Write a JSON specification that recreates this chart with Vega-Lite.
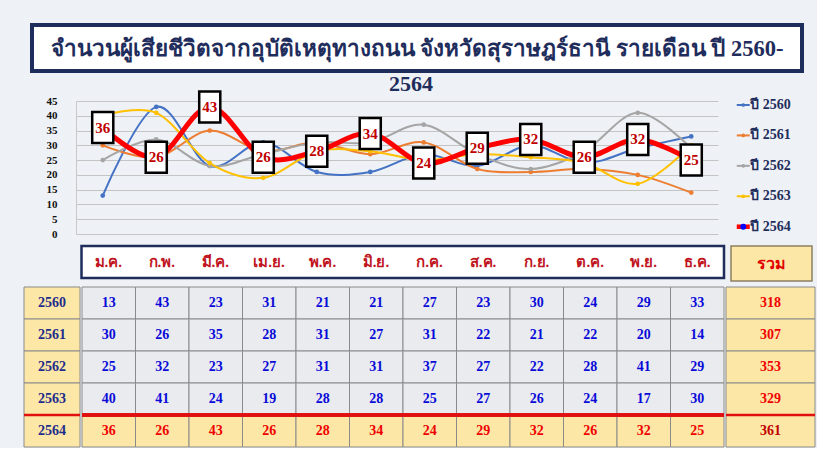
{
  "$schema": "https://vega.github.io/schema/vega-lite/v6.json",
  "background": "#eef1f5",
  "padding": {"left": 22, "top": 23, "right": 0, "bottom": 0},
  "spacing": 0,
  "config": {"view": {"stroke": null}, "font": "Liberation Serif"},
  "datasets": {
    "monthly": [
      {"year": "2560", "month": "ม.ค.", "value": 13}, {"year": "2560", "month": "ก.พ.", "value": 43}, {"year": "2560", "month": "มี.ค.", "value": 23}, {"year": "2560", "month": "เม.ย.", "value": 31}, {"year": "2560", "month": "พ.ค.", "value": 21}, {"year": "2560", "month": "มิ.ย.", "value": 21}, {"year": "2560", "month": "ก.ค.", "value": 27}, {"year": "2560", "month": "ส.ค.", "value": 23}, {"year": "2560", "month": "ก.ย.", "value": 30}, {"year": "2560", "month": "ต.ค.", "value": 24}, {"year": "2560", "month": "พ.ย.", "value": 29}, {"year": "2560", "month": "ธ.ค.", "value": 33},
      {"year": "2561", "month": "ม.ค.", "value": 30}, {"year": "2561", "month": "ก.พ.", "value": 26}, {"year": "2561", "month": "มี.ค.", "value": 35}, {"year": "2561", "month": "เม.ย.", "value": 28}, {"year": "2561", "month": "พ.ค.", "value": 31}, {"year": "2561", "month": "มิ.ย.", "value": 27}, {"year": "2561", "month": "ก.ค.", "value": 31}, {"year": "2561", "month": "ส.ค.", "value": 22}, {"year": "2561", "month": "ก.ย.", "value": 21}, {"year": "2561", "month": "ต.ค.", "value": 22}, {"year": "2561", "month": "พ.ย.", "value": 20}, {"year": "2561", "month": "ธ.ค.", "value": 14},
      {"year": "2562", "month": "ม.ค.", "value": 25}, {"year": "2562", "month": "ก.พ.", "value": 32}, {"year": "2562", "month": "มี.ค.", "value": 23}, {"year": "2562", "month": "เม.ย.", "value": 27}, {"year": "2562", "month": "พ.ค.", "value": 31}, {"year": "2562", "month": "มิ.ย.", "value": 31}, {"year": "2562", "month": "ก.ค.", "value": 37}, {"year": "2562", "month": "ส.ค.", "value": 27}, {"year": "2562", "month": "ก.ย.", "value": 22}, {"year": "2562", "month": "ต.ค.", "value": 28}, {"year": "2562", "month": "พ.ย.", "value": 41}, {"year": "2562", "month": "ธ.ค.", "value": 29},
      {"year": "2563", "month": "ม.ค.", "value": 40}, {"year": "2563", "month": "ก.พ.", "value": 41}, {"year": "2563", "month": "มี.ค.", "value": 24}, {"year": "2563", "month": "เม.ย.", "value": 19}, {"year": "2563", "month": "พ.ค.", "value": 28}, {"year": "2563", "month": "มิ.ย.", "value": 28}, {"year": "2563", "month": "ก.ค.", "value": 25}, {"year": "2563", "month": "ส.ค.", "value": 27}, {"year": "2563", "month": "ก.ย.", "value": 26}, {"year": "2563", "month": "ต.ค.", "value": 24}, {"year": "2563", "month": "พ.ย.", "value": 17}, {"year": "2563", "month": "ธ.ค.", "value": 30},
      {"year": "2564", "month": "ม.ค.", "value": 36}, {"year": "2564", "month": "ก.พ.", "value": 26}, {"year": "2564", "month": "มี.ค.", "value": 43}, {"year": "2564", "month": "เม.ย.", "value": 26}, {"year": "2564", "month": "พ.ค.", "value": 28}, {"year": "2564", "month": "มิ.ย.", "value": 34}, {"year": "2564", "month": "ก.ค.", "value": 24}, {"year": "2564", "month": "ส.ค.", "value": 29}, {"year": "2564", "month": "ก.ย.", "value": 32}, {"year": "2564", "month": "ต.ค.", "value": 26}, {"year": "2564", "month": "พ.ย.", "value": 32}, {"year": "2564", "month": "ธ.ค.", "value": 25}
    ]
  },
  "vconcat": [
    {
      "hconcat": [
        {"width": 6, "height": 46, "data": {"values": []}, "mark": {"type": "rect", "opacity": 0}, "encoding": {}},
        {
          "width": 770, "height": 46,
          "view": {"stroke": "#1f2d5c", "strokeWidth": 4, "fill": "white"},
          "data": {"values": [{"l1": "จำนวนผู้เสียชีวิตจากอุบัติเหตุทางถนน จังหวัดสุราษฎร์ธานี รายเดือน ปี 2560-"}]},
          "mark": {"type": "text", "fontSize": 22.5, "fontWeight": "bold", "color": "#1f2d5c", "baseline": "middle", "dy": 1},
          "encoding": {"text": {"field": "l1"}}
        }
      ],
      "spacing": 0
    },
    {
      "vconcat": [
        {
          "hconcat": [
            {"width": 22, "height": 133, "data": {"values": []}, "mark": {"type": "rect", "opacity": 0}, "encoding": {}},
            {
              "width": 642, "height": 133,
              "title": {"text": "2564", "fontSize": 22, "fontWeight": "bold", "color": "#1f2d5c", "font": "Liberation Serif", "frame": "group", "anchor": "middle", "dx": 14, "offset": -10},
              "data": {"name": "monthly"},
              "encoding": {
                "x": {"field": "month", "type": "ordinal", "sort": ["ม.ค.","ก.พ.","มี.ค.","เม.ย.","พ.ค.","มิ.ย.","ก.ค.","ส.ค.","ก.ย.","ต.ค.","พ.ย.","ธ.ค."], "scale": {"type": "point", "padding": 0.5}, "axis": null}
              },
              "layer": [
                {
                  "encoding": {
                    "y": {"field": "value", "type": "quantitative", "scale": {"domain": [0, 45], "nice": false},
                      "axis": {"values": [0,5,10,15,20,25,30,35,40,45], "title": null, "ticks": false, "domain": true, "domainColor": "#c8c8c8", "grid": true, "gridColor": "#c4c4c4", "labelFont": "Liberation Serif", "labelFontWeight": "bold", "labelFontSize": 11, "labelColor": "#111111", "labelPadding": 19}}
                  },
                  "layer": [
                    {
                      "transform": [{"filter": "datum.year != '2564'"}],
                      "mark": {"type": "line", "interpolate": "cardinal", "strokeWidth": 2, "point": {"size": 22, "filled": true}},
                      "encoding": {"color": {"field": "year", "type": "nominal",
                        "scale": {"domain": ["2560","2561","2562","2563","2564"], "range": ["#4472c4","#ed7d31","#a5a5a5","#ffc000","#ff0000"]}, "legend": null}}
                    },
                    {
                      "transform": [{"filter": "datum.year == '2564'"}],
                      "mark": {"type": "line", "interpolate": "cardinal", "strokeWidth": 5},
                      "encoding": {"color": {"field": "year", "type": "nominal", "legend": null}}
                    },
                    {
                      "transform": [{"filter": "datum.year == '2564'"}],
                      "mark": {"type": "point", "shape": "M-0.68,-1L0.68,-1L0.68,1L-0.68,1Z", "size": 961, "filled": true, "fill": "white", "stroke": "black", "strokeWidth": 2.5, "opacity": 1}
                    },
                    {
                      "transform": [{"filter": "datum.year == '2564'"}],
                      "mark": {"type": "text", "fontSize": 15, "fontWeight": "bold", "color": "#c00000", "baseline": "middle"},
                      "encoding": {"text": {"field": "value"}}
                    }
                  ]
                },
                {
                  "transform": [{"filter": "datum.month == 'ธ.ค.'"}, {"calculate": "'ปี ' + datum.year", "as": "label"}],
                  "encoding": {
                    "y": {"field": "year", "type": "quantitative", "scale": {"domain": [2559.8686, 2564.2393], "reverse": true, "nice": false, "zero": false}, "axis": null}
                  },
                  "layer": [
                    {"mark": {"type": "point", "shape": "stroke", "size": 169, "filled": false, "xOffset": 52, "opacity": 1},
                     "encoding": {"color": {"field": "year", "type": "nominal", "legend": null}, "strokeWidth": {"condition": {"test": "datum.year == '2564'", "value": 4.5}, "value": 2}}},
                    {"mark": {"type": "point", "shape": "circle", "filled": true, "xOffset": 52, "opacity": 1},
                     "encoding": {"color": {"condition": {"test": "datum.year == '2564'", "value": "#0000ff"}, "field": "year", "type": "nominal", "legend": null}, "size": {"condition": {"test": "datum.year == '2564'", "value": 36}, "value": 14}}},
                    {"mark": {"type": "text", "align": "left", "baseline": "middle", "xOffset": 59, "fontSize": 14, "fontWeight": "bold", "color": "#1f2d5c"},
                     "encoding": {"text": {"field": "label"}}}
                  ]
                }
              ],
              "resolve": {"scale": {"y": "independent"}}
            }
          ],
          "spacing": 0
        },
        {
          "vconcat": [
            {
              "hconcat": [
                {"width": 50.5, "height": 32, "data": {"values": []}, "mark": {"type": "rect", "opacity": 0}, "encoding": {}},
                {
                  "width": 642.5, "height": 32,
                  "view": {"stroke": "#1f2d5c", "strokeWidth": 2.5, "fill": "white"},
                  "data": {"name": "monthly"},
                  "transform": [{"filter": "datum.year == '2560'"}],
                  "mark": {"type": "text", "fontSize": 15, "fontWeight": "bold", "color": "#c0141e", "baseline": "middle"},
                  "encoding": {
                    "x": {"field": "month", "type": "ordinal", "sort": ["ม.ค.","ก.พ.","มี.ค.","เม.ย.","พ.ค.","มิ.ย.","ก.ค.","ส.ค.","ก.ย.","ต.ค.","พ.ย.","ธ.ค."], "scale": {"type": "band", "padding": 0}, "axis": null},
                    "text": {"field": "month"}
                  }
                },
                {
                  "width": 81, "height": 35,
                  "view": {"stroke": "#8d8060", "strokeWidth": 1.5, "fill": "#fde7a6"},
                  "data": {"values": [{"t": "รวม"}]},
                  "mark": {"type": "text", "fontSize": 16, "fontWeight": "bold", "color": "#e00000", "baseline": "middle"},
                  "encoding": {"text": {"field": "t"}}
                }
              ],
              "spacing": 4.5
            },
            {
              "hconcat": [
                {
                  "width": 56, "height": 160,
                  "data": {"name": "monthly"},
                  "transform": [{"aggregate": [{"op": "sum", "field": "value", "as": "total"}], "groupby": ["year"]}],
                  "encoding": {"y": {"field": "year", "type": "ordinal", "scale": {"type": "band", "padding": 0}, "axis": null}},
                  "layer": [
                    {"mark": {"type": "rect", "fill": "#fde7a6", "stroke": "#8a8a8a", "strokeWidth": 1}},
                    {"transform": [{"filter": "datum.year == '2564'"}], "mark": {"type": "rule", "color": "#e01010", "strokeWidth": 2.5}, "encoding": {"y": {"field": "year", "type": "ordinal", "bandPosition": 0}}},
                    {"mark": {"type": "text", "fontSize": 14, "fontWeight": "bold", "color": "#1f2d8c", "baseline": "middle"}, "encoding": {"text": {"field": "year"}}}
                  ]
                },
                {
                  "width": 642, "height": 160,
                  "data": {"name": "monthly"},
                  "encoding": {
                    "x": {"field": "month", "type": "ordinal", "sort": ["ม.ค.","ก.พ.","มี.ค.","เม.ย.","พ.ค.","มิ.ย.","ก.ค.","ส.ค.","ก.ย.","ต.ค.","พ.ย.","ธ.ค."], "scale": {"type": "band", "padding": 0}, "axis": null},
                    "y": {"field": "year", "type": "ordinal", "scale": {"type": "band", "padding": 0}, "axis": null}
                  },
                  "layer": [
                    {"mark": {"type": "rect", "stroke": "#8a8a8a", "strokeWidth": 1}, "encoding": {"fill": {"condition": {"test": "datum.year == '2564'", "value": "#fde7a6"}, "value": "#e9ebef"}}},
                    {"transform": [{"filter": "datum.year == '2564'"}], "mark": {"type": "rule", "color": "#e01010", "strokeWidth": 2.5}, "encoding": {"x": null, "y": {"field": "year", "type": "ordinal", "bandPosition": 0}}},
                    {"mark": {"type": "text", "fontSize": 14, "fontWeight": "bold", "baseline": "middle"}, "encoding": {"text": {"field": "value"}, "color": {"condition": {"test": "datum.year == '2564'", "value": "#f00000"}, "value": "#0a0ad8"}}}
                  ]
                },
                {
                  "width": 89, "height": 160,
                  "data": {"name": "monthly"},
                  "transform": [{"aggregate": [{"op": "sum", "field": "value", "as": "total"}], "groupby": ["year"]}],
                  "encoding": {"y": {"field": "year", "type": "ordinal", "scale": {"type": "band", "padding": 0}, "axis": null}},
                  "layer": [
                    {"mark": {"type": "rect", "fill": "#fde7a6", "stroke": "#8a8a8a", "strokeWidth": 1}},
                    {"transform": [{"filter": "datum.year == '2564'"}], "mark": {"type": "rule", "color": "#e01010", "strokeWidth": 2.5}, "encoding": {"y": {"field": "year", "type": "ordinal", "bandPosition": 0}}},
                    {"mark": {"type": "text", "fontSize": 14, "fontWeight": "bold", "baseline": "middle"}, "encoding": {"text": {"field": "total"}, "color": {"condition": {"test": "datum.year == '2564'", "value": "#c00000"}, "value": "#f00000"}}}
                  ]
                }
              ],
              "spacing": -2.5
            }
          ],
          "spacing": 4
        }
      ],
      "spacing": 5
    }
  ]
}
